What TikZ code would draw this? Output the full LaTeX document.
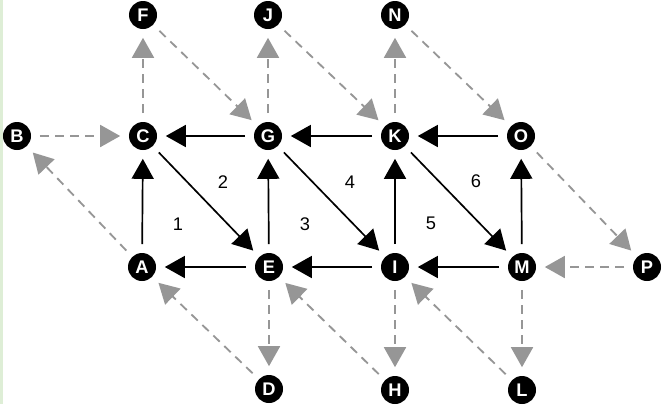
\documentclass[tikz,border=0pt]{standalone}
\usepackage{fontspec}
\setmainfont{Liberation Sans}
\usepackage{tikz}
\usetikzlibrary{arrows.meta}
\definecolor{flowgray}{RGB}{150,150,150}
\definecolor{edgegreen}{RGB}{222,238,214}
\tikzset{
  vertex/.style={circle,fill=black,text=white,font=\bfseries\fontsize{13}{14}\selectfont,
    minimum size=0.7cm,inner sep=0pt,outer sep=0.22cm},
  solidarc/.style={line width=1.2pt,black,-{Triangle[length=0.5cm,width=0.55cm]}},
  dasharc/.style={line width=1.3pt,flowgray,dash pattern=on 0.22cm off 0.16cm,
    -{Triangle[length=0.5cm,width=0.55cm]}},
  facelabel/.style={font=\fontsize{13}{14}\selectfont}
}
\begin{document}
\begin{tikzpicture}[x=0.025cm,y=-0.025cm]
\useasboundingbox (0,0) rectangle (662,404);
\fill[edgegreen] (0,0) rectangle (2.5,404);
% nodes
\node[vertex] (F) at (143,15) {F};
\node[vertex] (J) at (268,15) {J};
\node[vertex] (N) at (395,15) {N};
\node[vertex] (B) at (17,136) {B};
\node[vertex] (C) at (143,136) {C};
\node[vertex] (G) at (268,136) {G};
\node[vertex] (K) at (395,136) {K};
\node[vertex] (O) at (521,136) {O};
\node[vertex] (A) at (142,267) {A};
\node[vertex] (E) at (269,267) {E};
\node[vertex] (I) at (395,267) {I};
\node[vertex] (M) at (522,267) {M};
\node[vertex] (P) at (647,267) {P};
\node[vertex] (D) at (269,389) {D};
\node[vertex] (H) at (395,390) {H};
\node[vertex] (L) at (522,390) {L};
% face numbers
\node[facelabel] (n1) at (178,224) {1};
\node[facelabel] (n2) at (223,182) {2};
\node[facelabel] (n3) at (305,224) {3};
\node[facelabel] (n4) at (350,182) {4};
\node[facelabel] (n5) at (431,223) {5};
\node[facelabel] (n6) at (476,181) {6};
% solid arcs
\foreach \s/\t in {A/C,C/E,E/A,E/G,G/C,G/I,I/E,I/K,K/G,K/M,M/I,M/O,O/K}
  \draw[solidarc] (\s) -- (\t);
% dashed arcs
\foreach \s/\t in {B/C,A/B,C/F,F/G,G/J,J/K,K/N,N/O,O/P,P/M,M/L,L/I,I/H,H/E,E/D,D/A}
  \draw[dasharc] (\s) -- (\t);
\end{tikzpicture}
\end{document}
